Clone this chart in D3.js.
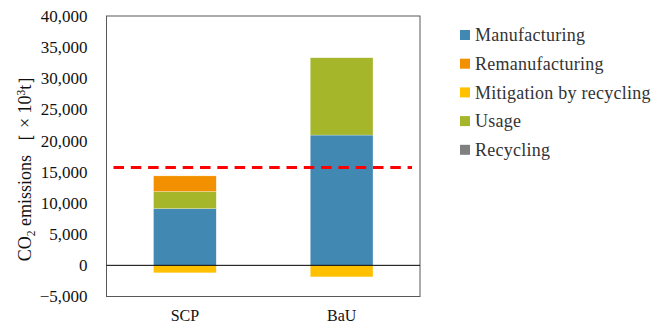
<!DOCTYPE html>
<html>
<head>
<meta charset="utf-8">
<script src="https://cdn.jsdelivr.net/npm/d3@7"></script>
<style>
  html, body { margin: 0; padding: 0; background: #fff; }
  svg { display: block; }
</style>
</head>
<body>
<svg id="chart" width="668" height="329"></svg>
<script>
// Scenarios on the x axis
const categories = ["SCP", "BaU"];

// Emission components per scenario (×10³ t CO2)
const manufacturing   = [9100, 20900];
const remanufacturing = [2500, 0];
const mitigation      = [-1200, -1850];
const usage           = [2750, 12400];
const recycling       = [0, 0];

// Reference level drawn as a dashed line
const targetLevel = 15700;

// Y axis ticks
const yTicks = [-5000, 0, 5000, 10000, 15000, 20000, 25000, 30000, 35000, 40000];

const series = [
  { name: "Manufacturing",           values: manufacturing,   color: "#4189B3" },
  { name: "Remanufacturing",         values: remanufacturing, color: "#F39000" },
  { name: "Mitigation by recycling", values: mitigation,      color: "#FFC000" },
  { name: "Usage",                   values: usage,           color: "#A5B62A" },
  { name: "Recycling",               values: recycling,       color: "#808080" }
];
// Stacking order for positive values (bottom to top)
const stackOrder = ["Manufacturing", "Usage", "Remanufacturing", "Recycling"];

const FONT = "'Liberation Serif'";

const svg = d3.select("#chart");
const margin = { left: 106.5, top: 16, right: 420, bottom: 296.5 };

const x = d3.scaleBand()
  .domain(categories)
  .range([margin.left, margin.right])
  .paddingInner(0.6)
  .paddingOuter(0.3);

const y = d3.scaleLinear()
  .domain([-5000, 40000])
  .range([margin.bottom, margin.top]);

// Plot frame
svg.append("rect")
  .attr("x", margin.left)
  .attr("y", margin.top)
  .attr("width", margin.right - margin.left)
  .attr("height", margin.bottom - margin.top)
  .attr("fill", "none")
  .attr("stroke", "#595959")
  .attr("stroke-width", 1);

// Y axis labels
const gy = svg.append("g")
  .attr("transform", `translate(${margin.left},0)`)
  .call(d3.axisLeft(y).tickValues(yTicks).tickSize(0).tickPadding(19).tickFormat(d3.format(",")));
gy.select(".domain").remove();
gy.selectAll("text")
  .style("font-family", FONT)
  .style("font-size", "17px")
  .style("fill", "#111");

// X axis labels
const gx = svg.append("g")
  .attr("transform", `translate(0,${margin.bottom})`)
  .call(d3.axisBottom(x).tickSize(0).tickPadding(13));
gx.select(".domain").remove();
gx.selectAll("text")
  .style("font-family", FONT)
  .style("font-size", "16px")
  .style("fill", "#111");

// Stacked bars
const byName = Object.fromEntries(series.map(s => [s.name, s]));
categories.forEach((cat, i) => {
  let base = 0;
  stackOrder.forEach(name => {
    const s = byName[name];
    const v = s.values[i];
    if (v > 0) {
      svg.append("rect")
        .attr("x", x(cat))
        .attr("width", x.bandwidth())
        .attr("y", y(base + v))
        .attr("height", y(base) - y(base + v))
        .attr("fill", s.color)
        .attr("stroke", "#fff")
        .attr("stroke-opacity", 0.5)
        .attr("stroke-width", 0.5);
      base += v;
    }
  });
  const m = byName["Mitigation by recycling"].values[i];
  svg.append("rect")
    .attr("x", x(cat))
    .attr("width", x.bandwidth())
    .attr("y", y(0))
    .attr("height", y(m) - y(0))
    .attr("fill", byName["Mitigation by recycling"].color)
    .attr("stroke", "#fff")
    .attr("stroke-opacity", 0.5)
    .attr("stroke-width", 0.5);
});

// Zero line
svg.append("line")
  .attr("x1", margin.left).attr("x2", margin.right)
  .attr("y1", y(0)).attr("y2", y(0))
  .attr("stroke", "#000").attr("stroke-width", 1);

// Dashed reference line
svg.append("line")
  .attr("x1", 113.5).attr("x2", 412)
  .attr("y1", y(targetLevel)).attr("y2", y(targetLevel))
  .attr("stroke", "#FF0000")
  .attr("stroke-width", 3)
  .attr("stroke-dasharray", "10.5,6.8");

// Y axis title
const title = svg.append("text")
  .attr("transform", "translate(31,164) rotate(-90)")
  .attr("text-anchor", "middle")
  .style("font-family", FONT)
  .style("font-size", "18px")
  .style("fill", "#111");
title.append("tspan").text("CO");
title.append("tspan").style("font-size", "11.5px").attr("dy", 4).text("2");
title.append("tspan").attr("dy", -4).text(" emissions ［ × 10");
title.append("tspan").style("font-size", "11.5px").attr("dy", -6).text("3");
title.append("tspan").attr("dy", 6).text("t］");

// Legend
const legend = svg.append("g").attr("transform", "translate(460,35)");
series.forEach((s, i) => {
  const g = legend.append("g").attr("transform", `translate(0,${i * 28.7})`);
  g.append("rect")
    .attr("x", 0).attr("y", -5)
    .attr("width", 10).attr("height", 10)
    .attr("fill", s.color);
  g.append("text")
    .attr("x", 15).attr("y", 0)
    .attr("dy", "0.35em")
    .style("font-family", FONT)
    .style("font-size", "18px")
    .style("letter-spacing", "0.25px")
    .style("fill", "#333")
    .text(s.name);
});
</script>
</body>
</html>
